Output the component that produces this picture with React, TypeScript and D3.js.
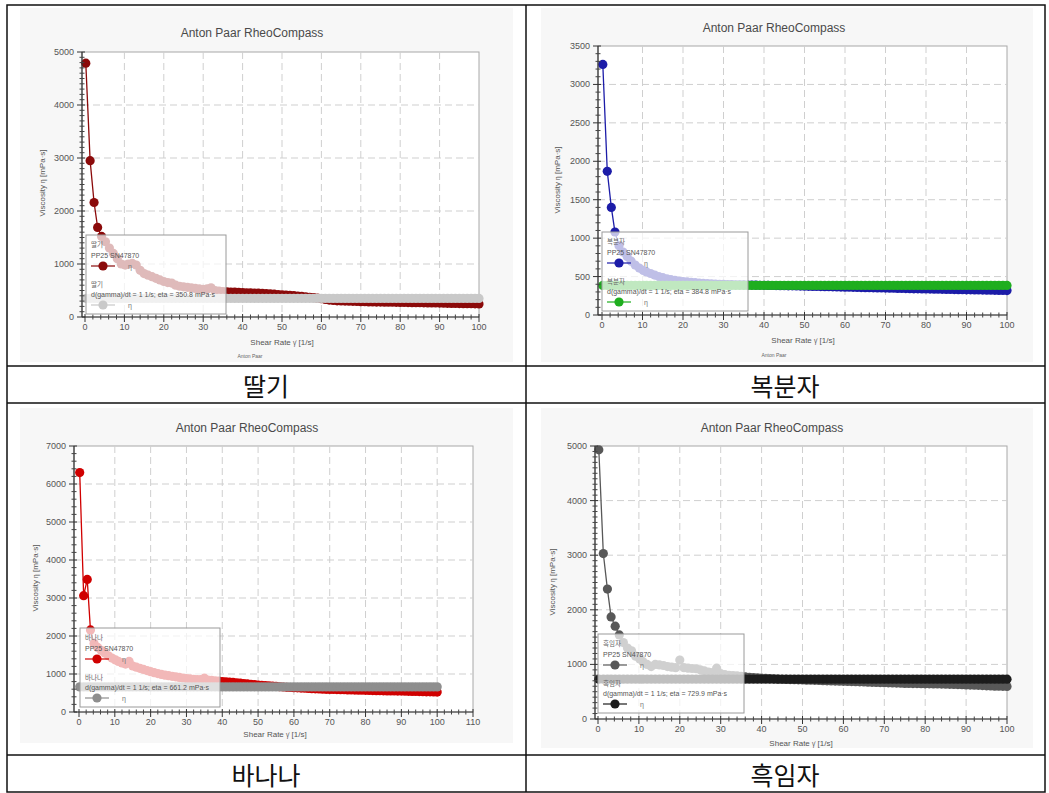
import React from 'react';
import * as d3 from 'd3';

// Shear rate sample points [1/s]
const SHEAR = [0.2, 1.3, 2.3, 3.2, 4.2, 5.2, 6.2, 7.2, 8.2, 9.2, 10.2,
  11, 12, 13, 14, 15, 16, 17, 18, 19, 20, 21, 22, 23, 24, 25, 26, 27, 28, 29, 30,
  31, 32, 33, 34, 35, 36, 37, 38, 39, 40, 41, 42, 43, 44, 45, 46, 47, 48, 49, 50,
  51, 52, 53, 54, 55, 56, 57, 58, 59, 60, 61, 62, 63, 64, 65, 66, 67, 68, 69, 70,
  71, 72, 73, 74, 75, 76, 77, 78, 79, 80, 81, 82, 83, 84, 85, 86, 87, 88, 89, 90,
  91, 92, 93, 94, 95, 96, 97, 98, 99, 100];

// Viscosity [mPa·s]
const STRAWBERRY = [4790, 2950, 2160, 1690, 1520, 1420, 1300, 1200, 1100, 1000, 980,
  1000, 1010, 980, 880, 820, 790, 760, 730, 700, 670, 650, 640, 600, 580, 570, 560, 550, 540, 530, 520,
  530, 550, 500, 490, 480, 475, 470, 468, 465, 460, 458, 455, 452, 450, 445, 440, 435, 430, 425, 420,
  415, 410, 402, 395, 388, 380, 372, 365, 355, 345, 332, 320, 312, 305, 302, 300, 298, 295, 292, 290,
  288, 285, 284, 282, 281, 280, 279, 278, 276, 275, 274, 272, 271, 270, 269, 268, 266, 265, 264, 262,
  260, 258, 257, 255, 254, 252, 251, 250, 248, 245];
const RASPBERRY = [3260, 1870, 1400, 1080, 900, 820, 760, 700, 650, 610, 580,
  560, 540, 520, 500, 485, 470, 460, 450, 442, 435, 430, 425, 420, 415, 411, 408, 405, 402, 400, 398,
  396, 395, 393, 392, 391, 390, 389, 388, 387, 386, 385, 384, 383, 382, 381, 380, 379, 378, 376, 375,
  373, 372, 371, 370, 369, 368, 366, 365, 363, 362, 361, 360, 358, 357, 356, 355, 353, 352, 351, 350,
  349, 348, 346, 345, 344, 343, 341, 340, 339, 338, 337, 336, 335, 334, 333, 332, 331, 330, 329, 328,
  327, 326, 325, 324, 323, 322, 321, 320, 319, 318];
const BANANA = [6300, 3060, 3490, 2160, 1800, 1700, 1620, 1550, 1480, 1420, 1370,
  1330, 1290, 1260, 1330, 1210, 1180, 1150, 1120, 1090, 1060, 1035, 1010, 990, 970, 955, 940, 925, 910, 895, 880,
  870, 860, 855, 850, 890, 840, 830, 820, 810, 800, 792, 785, 778, 770, 760, 750, 740, 730, 720, 710,
  702, 695, 688, 680, 672, 665, 658, 650, 645, 640, 635, 630, 625, 620, 615, 610, 605, 600, 598, 595,
  592, 590, 588, 585, 582, 580, 578, 575, 572, 570, 568, 565, 562, 560, 558, 555, 554, 552, 551, 550,
  548, 545, 542, 540, 538, 535, 532, 530, 528, 525];
const SESAME = [4930, 3030, 2380, 1870, 1700, 1540, 1400, 1300, 1250, 1150, 1100,
  1050, 1000, 960, 1000, 990, 980, 960, 950, 940, 1080, 940, 930, 925, 920, 900, 880, 860, 850, 930, 830,
  815, 800, 795, 790, 780, 770, 765, 760, 755, 750, 745, 740, 735, 730, 728, 725, 722, 720, 718, 715,
  712, 710, 708, 705, 702, 700, 698, 695, 692, 690, 688, 685, 682, 680, 678, 675, 672, 670, 668, 665,
  662, 660, 658, 655, 652, 650, 649, 648, 646, 645, 644, 642, 641, 640, 638, 635, 632, 630, 628, 625,
  622, 620, 616, 612, 608, 605, 602, 600, 598, 595];

// Fitted constant viscosities (eta at d(gamma)/dt = 1 1/s)
const ETA_FIT = [350.8, 384.8, 661.2, 729.9];
const NAMES = ['딸기', '복분자', '바나나', '흑임자'];
const MAIN_SERIES = [STRAWBERRY, RASPBERRY, BANANA, SESAME];
const X_MAX = [100, 100, 110, 100];
const Y_MAX = [5000, 3500, 7000, 5000];
const Y_STEP = [1000, 500, 1000, 1000];
const Y_MINOR = [10, 5, 5, 10];

const CHARTS = [
  { bg: [20, 8, 513, 362], plot: { l: 82, r: 479, t: 52, b: 317 }, x0: 85, title: [252, 37], yTitle: [45, 183], xTitle: [282, 345], anton: [250, 358], legend: [86, 235, 140],
    mainColor: '#8b0a0a', fitColor: '#c9c9c9' },
  { bg: [541, 8, 1033, 362], plot: { l: 598, r: 1007, t: 46, b: 315 }, x0: 602, title: [774, 32], yTitle: [560, 180], xTitle: [803, 343], anton: [774, 357], legend: [602, 232, 146],
    mainColor: '#1c1ca8', fitColor: '#1fae1f' },
  { bg: [20, 408, 513, 743], plot: { l: 74, r: 473, t: 446, b: 712 }, x0: 79, title: [247, 432], yTitle: [38, 578], xTitle: [275, 737], anton: null, legend: [80, 628, 140],
    mainColor: '#d00000', fitColor: '#8e8e8e' },
  { bg: [541, 408, 1033, 748], plot: { l: 595, r: 1007, t: 446, b: 719 }, x0: 598, title: [772, 432], yTitle: [555, 582], xTitle: [801, 746], anton: null, legend: [598, 634, 146],
    mainColor: '#585858', fitColor: '#1c1c1c' },
];

const FONT = '"Liberation Sans", Arial, "Noto Sans CJK KR", sans-serif';

function Chart({ idx }: { idx: number }) {
  const cfg = CHARTS[idx];
  const { plot } = cfg;
  const xMax = X_MAX[idx];
  const yMax = Y_MAX[idx];
  const yStep = Y_STEP[idx];
  const x = d3.scaleLinear().domain([0, xMax]).range([cfg.x0, plot.r]);
  const y = d3.scaleLinear().domain([0, yMax]).range([plot.b, plot.t]);
  const xMajor = d3.range(0, xMax + 0.001, 10);
  const xMinor = d3.range(0, xMax + 0.001, 2).filter((v) => v % 10 !== 0);
  const yMajor = d3.range(0, yMax + 0.001, yStep);
  const ms = yStep / Y_MINOR[idx];
  const yMinor = d3.range(0, yMax + 0.001, ms).filter((v) => Math.abs(v / yStep - Math.round(v / yStep)) > 1e-6);
  const main = MAIN_SERIES[idx];
  const fit = SHEAR.map(() => ETA_FIT[idx]);
  const line = d3.line<number>().x((_, i) => x(SHEAR[i])).y((d) => y(d));
  const [lx, ly, lw] = cfg.legend;
  const lh = 79;
  const r = 4.6;
  const [bx0, by0, bx1, by1] = cfg.bg;
  return (
    <g fontFamily={FONT}>
      <rect x={bx0} y={by0} width={bx1 - bx0} height={by1 - by0} fill="#f7f7f7" />
      <rect x={plot.l} y={plot.t} width={plot.r - plot.l} height={plot.b - plot.t} fill="#ffffff" stroke="#a8a8a8" strokeWidth={1} />
      <text x={cfg.title[0]} y={cfg.title[1]} textAnchor="middle" fontSize={12} fill="#4a4a4a">Anton Paar RheoCompass</text>
      {xMajor.filter((v) => v > 0 && x(v) < plot.r - 1).map((v) => (
        <line key={'gx' + v} x1={x(v)} x2={x(v)} y1={plot.t} y2={plot.b} stroke="#cfcfcf" strokeDasharray="7,4" />
      ))}
      {yMajor.filter((v) => v > 0 && v < yMax).map((v) => (
        <line key={'gy' + v} x1={plot.l} x2={plot.r} y1={y(v)} y2={y(v)} stroke="#cfcfcf" strokeDasharray="7,4" />
      ))}
      <path d={line(main) || ''} fill="none" stroke={cfg.mainColor} strokeWidth={1.3} />
      {main.map((v, i) => (
        <circle key={'m' + i} cx={x(SHEAR[i])} cy={y(v)} r={r} fill={cfg.mainColor} />
      ))}
      <path d={line(fit) || ''} fill="none" stroke={cfg.fitColor} strokeWidth={1.3} />
      {fit.map((v, i) => (
        <circle key={'f' + i} cx={x(SHEAR[i])} cy={y(v)} r={r} fill={cfg.fitColor} />
      ))}
      <line x1={plot.l} x2={plot.r} y1={plot.b} y2={plot.b} stroke="#333" strokeWidth={1.2} />
      <line x1={plot.l} x2={plot.l} y1={plot.t} y2={plot.b} stroke="#333" strokeWidth={1.2} />
      {xMajor.map((v) => (
        <g key={'xt' + v}>
          <line x1={x(v)} x2={x(v)} y1={plot.b - 3} y2={plot.b + 5} stroke="#333" />
          <text x={x(v)} y={plot.b + 13} textAnchor="middle" fontSize={9} fill="#555">{v}</text>
        </g>
      ))}
      {xMinor.map((v) => (
        <line key={'xm' + v} x1={x(v)} x2={x(v)} y1={plot.b - 2.5} y2={plot.b + 2.5} stroke="#444" />
      ))}
      {yMajor.map((v) => (
        <g key={'yt' + v}>
          <line x1={plot.l - 5} x2={plot.l + 3} y1={y(v)} y2={y(v)} stroke="#333" />
          <text x={plot.l - 8} y={y(v) + 3} textAnchor="end" fontSize={9} fill="#555">{v}</text>
        </g>
      ))}
      {yMinor.map((v) => (
        <line key={'ym' + v} x1={plot.l - 2.5} x2={plot.l + 2.5} y1={y(v)} y2={y(v)} stroke="#444" />
      ))}
      <text x={cfg.xTitle[0]} y={cfg.xTitle[1]} textAnchor="middle" fontSize={8} fill="#555">
        Shear Rate <tspan fontSize={6.5}>γ̇</tspan> [1/s]
      </text>
      <text transform={`translate(${cfg.yTitle[0]},${cfg.yTitle[1]}) rotate(-90)`} textAnchor="middle" fontSize={8} fill="#555">
        Viscosity <tspan fontSize={6.5}>η</tspan> [mPa·s]
      </text>
      {cfg.anton && (
        <text x={cfg.anton[0]} y={cfg.anton[1]} textAnchor="middle" fontSize={5} fill="#666">Anton Paar</text>
      )}
      <rect x={lx} y={ly} width={lw} height={lh} fill="#ffffff" fillOpacity={0.72} stroke="#9a9a9a" strokeWidth={1} />
      <text x={lx + 5} y={ly + 12} fontSize={6.5} fill="#666">{NAMES[idx]}</text>
      <text x={lx + 5} y={ly + 22.5} fontSize={7} fill="#555">PP25 SN47870</text>
      <line x1={lx + 5} x2={lx + 29} y1={ly + 31} y2={ly + 31} stroke={cfg.mainColor} strokeWidth={1.2} />
      <circle cx={lx + 17} cy={ly + 31} r={r} fill={cfg.mainColor} />
      <text x={lx + 42} y={ly + 34} fontSize={7} fill="#777">η</text>
      <text x={lx + 5} y={ly + 51.5} fontSize={6.5} fill="#666">{NAMES[idx]}</text>
      <text x={lx + 5} y={ly + 62} fontSize={7} fill="#555">{`d(gamma)/dt = 1 1/s; eta = ${ETA_FIT[idx]} mPa·s`}</text>
      <line x1={lx + 5} x2={lx + 29} y1={ly + 70} y2={ly + 70} stroke={cfg.fitColor} strokeWidth={1.2} />
      <circle cx={lx + 17} cy={ly + 70} r={r} fill={cfg.fitColor} />
      <text x={lx + 42} y={ly + 73} fontSize={7} fill="#777">η</text>
    </g>
  );
}

export default function App() {
  const labelFont = '"Noto Sans CJK KR", sans-serif';
  const labels = [
    { x: 266, y: 385 },
    { x: 785, y: 385 },
    { x: 266, y: 774 },
    { x: 785, y: 774 },
  ];
  return (
    <svg width={1049} height={793} style={{ position: 'absolute', left: 0, top: 0, background: '#fff' }}>
      <rect x={0} y={0} width={1049} height={793} fill="#fff" />
      {[0, 1, 2, 3].map((i) => (
        <Chart key={i} idx={i} />
      ))}
      <g stroke="#111" strokeWidth={1.5} fill="none">
        <rect x={7} y={5} width={1038} height={787} />
        <line x1={526} x2={526} y1={5} y2={792} />
        <line x1={7} x2={1045} y1={366} y2={366} />
        <line x1={7} x2={1045} y1={403} y2={403} />
        <line x1={7} x2={1045} y1={755} y2={755} />
      </g>
      {NAMES.map((n, i) => (
        <text key={n} x={labels[i].x} y={labels[i].y} textAnchor="middle" dominantBaseline="central" fontSize={25} fontFamily={labelFont} fill="#111">
          {n}
        </text>
      ))}
    </svg>
  );
}
